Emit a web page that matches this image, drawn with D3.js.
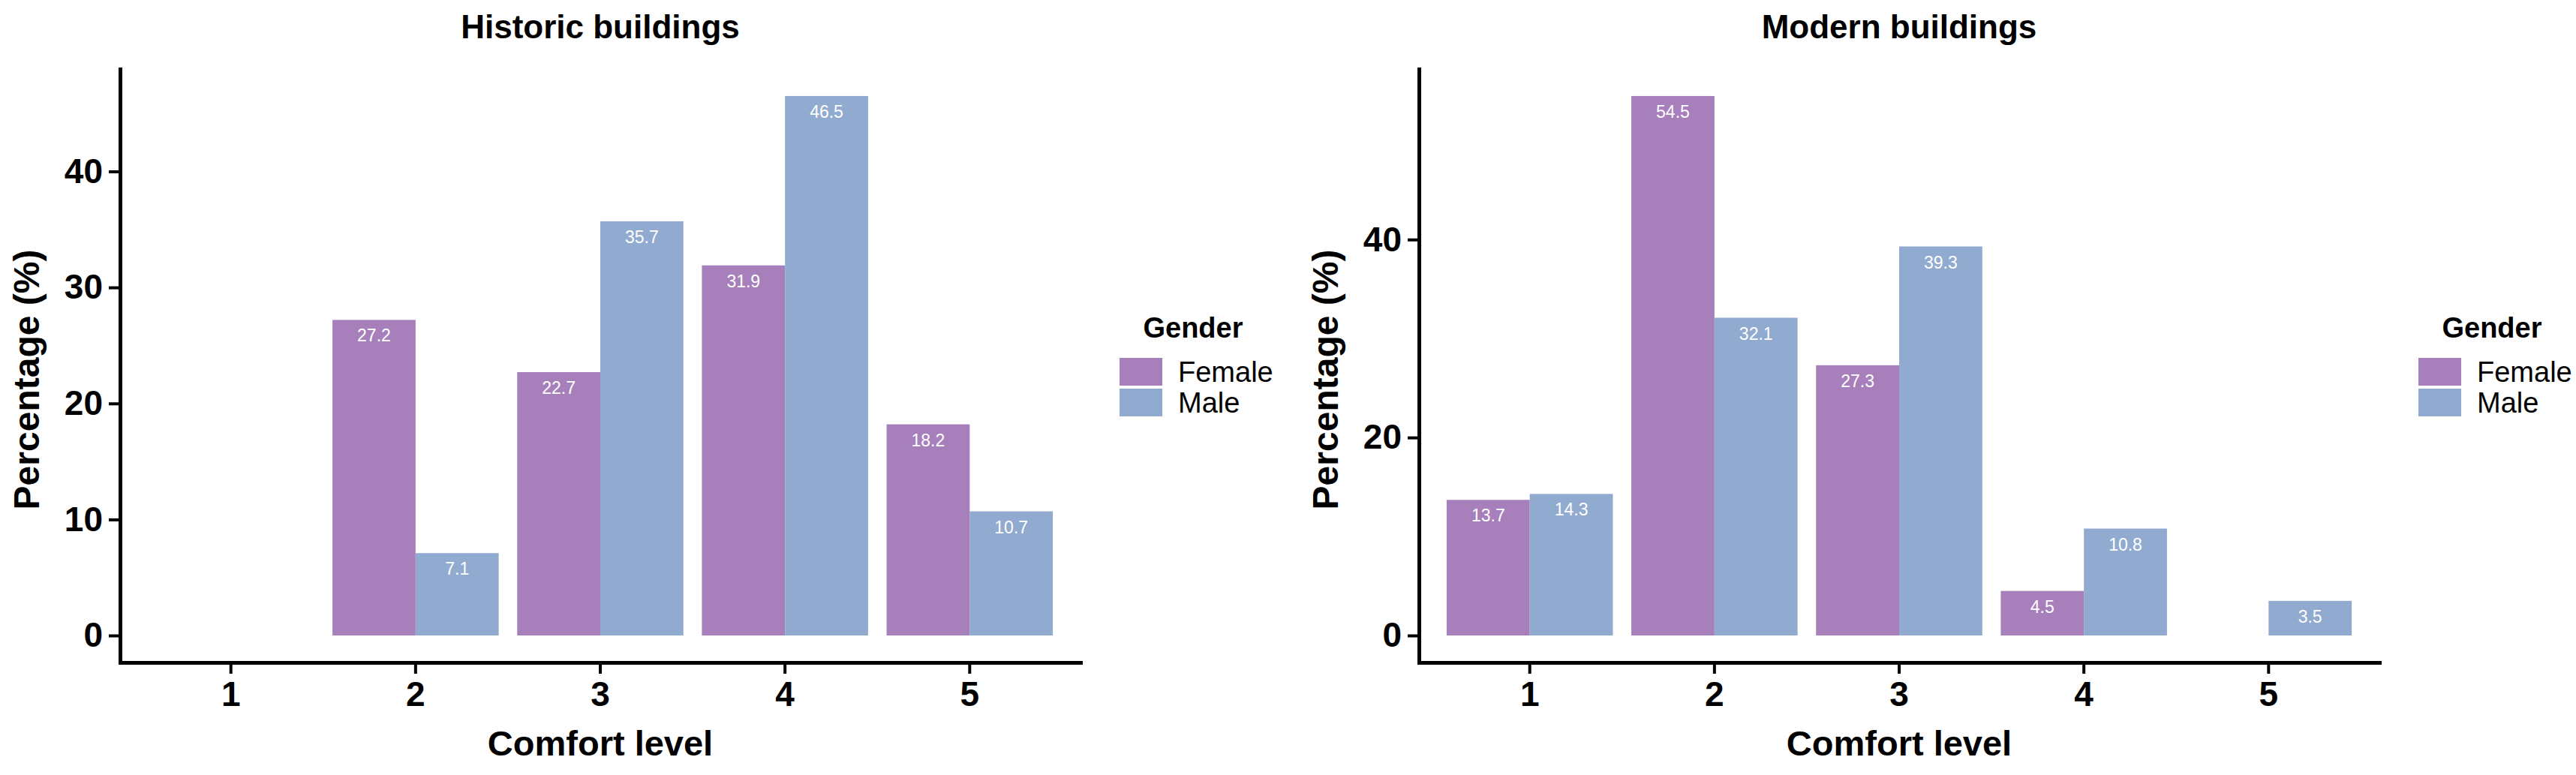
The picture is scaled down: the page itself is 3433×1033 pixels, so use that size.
<!DOCTYPE html>
<html>
<head>
<meta charset="utf-8">
<script src="https://cdn.jsdelivr.net/npm/d3@7"></script>
<style>
  html, body { margin: 0; padding: 0; background: #ffffff; }
  svg { display: block; }
  text { font-family: "Liberation Sans", Arial, Helvetica, sans-serif; }
</style>
</head>
<body>
<svg id="chart" width="3433" height="1033"></svg>
<script>
// ---- Data ----
const levels = ["1", "2", "3", "4", "5"];
const genders = ["Female", "Male"];
const genderColors = ["#A77FBB", "#91ABD0"];

const historicFemale = [null, 27.2, 22.7, 31.9, 18.2];
const historicMale   = [null, 7.1, 35.7, 46.5, 10.7];
const modernFemale   = [13.7, 54.5, 27.3, 4.5, null];
const modernMale     = [14.3, 32.1, 39.3, 10.8, 3.5];

const historicTicks = [0, 10, 20, 30, 40];
const modernTicks   = [0, 20, 40];

const panelTitles = ["Historic buildings", "Modern buildings"];
const xTitle = "Comfort level";
const yTitle = "Percentage (%)";
const legendTitle = "Gender";

// ---- Layout ----
(function () {
  const svg = d3.select("#chart");
  const W = 3433, H = 1033;
  svg.append("rect").attr("width", W).attr("height", H).attr("fill", "#fff");

  const panels = [
    { left: 160, right: 1440, title: panelTitles[0], female: historicFemale, male: historicMale, ticks: historicTicks },
    { left: 1891, right: 3171, title: panelTitles[1], female: modernFemale, male: modernMale, ticks: modernTicks }
  ];
  const panelTop = 92, panelBottom = 883;
  const lineW = 5;

  panels.forEach(p => {
    const g = svg.append("g");
    const rows = levels.map((lv, i) => ({ level: lv, values: [p.female[i], p.male[i]] }));
    const maxV = d3.max(rows, r => d3.max(r.values.filter(v => v != null)));

    const x = d3.scaleBand().domain(levels).range([p.left, p.right])
      .paddingInner(0.1).paddingOuter(0.15);
    const xg = d3.scaleBand().domain(genders).range([0, x.bandwidth()]);
    const y = d3.scaleLinear().domain([-0.05 * maxV, maxV * 1.05]).range([panelBottom, panelTop]);
    const color = d3.scaleOrdinal().domain(genders).range(genderColors);

    const bars = [];
    rows.forEach(r => r.values.forEach((v, j) => {
      if (v != null) bars.push({ level: r.level, gender: genders[j], value: v });
    }));

    g.selectAll("rect.bar").data(bars).enter().append("rect")
      .attr("class", "bar")
      .attr("x", d => x(d.level) + xg(d.gender))
      .attr("width", xg.bandwidth())
      .attr("y", d => y(d.value))
      .attr("height", d => y(0) - y(d.value))
      .attr("fill", d => color(d.gender));

    g.selectAll("text.lab").data(bars).enter().append("text")
      .attr("class", "lab")
      .attr("x", d => x(d.level) + xg(d.gender) + xg.bandwidth() / 2)
      .attr("y", d => y(d.value) + 29)
      .attr("text-anchor", "middle")
      .attr("fill", "#ffffff")
      .attr("font-size", 23)
      .text(d => d3.format(".1f")(d.value));

    const xAxis = g.append("g").attr("transform", `translate(0,${panelBottom})`)
      .call(d3.axisBottom(x).tickSize(15).tickSizeOuter(0).tickPadding(10));
    const yAxis = g.append("g").attr("transform", `translate(${p.left},0)`)
      .call(d3.axisLeft(y).tickValues(p.ticks).tickSize(15).tickSizeOuter(0).tickPadding(8));

    [xAxis, yAxis].forEach(ax => {
      ax.select(".domain").attr("stroke", "#000").attr("stroke-width", lineW).attr("stroke-linecap", "square");
      ax.selectAll(".tick line").attr("stroke", "#000").attr("stroke-width", 4);
      ax.selectAll(".tick text")
        .attr("fill", "#000")
        .attr("font-size", 46)
        .attr("font-weight", "bold")
        .attr("font-family", "'Liberation Sans', Arial, sans-serif");
    });

    const cx = (p.left + p.right) / 2;
    g.append("text").attr("x", cx).attr("y", 51)
      .attr("text-anchor", "middle").attr("font-size", 44).attr("font-weight", "bold")
      .attr("fill", "#000").text(p.title);
    g.append("text").attr("x", cx).attr("y", 1007)
      .attr("text-anchor", "middle").attr("font-size", 47).attr("font-weight", "bold")
      .attr("fill", "#000").text(xTitle);
    g.append("text")
      .attr("transform", `translate(${p.left - 108},506) rotate(-90)`)
      .attr("text-anchor", "middle").attr("font-size", 48).attr("font-weight", "bold")
      .attr("fill", "#000").text(yTitle);

    const lx = p.right + 52;
    const keyW = 57, keyH = 37, keyStep = 41, keyTop = 477;
    const lg = g.append("g");
    lg.append("text").attr("x", lx + 98).attr("y", 450)
      .attr("text-anchor", "middle").attr("font-size", 38).attr("font-weight", "bold")
      .attr("fill", "#000").text(legendTitle);
    genders.forEach((gn, i) => {
      lg.append("rect").attr("x", lx).attr("y", keyTop + i * keyStep)
        .attr("width", keyW).attr("height", keyH).attr("fill", color(gn));
      lg.append("text").attr("x", lx + keyW + 21).attr("y", keyTop + i * keyStep + keyH / 2 + 13)
        .attr("font-size", 38).attr("fill", "#000").text(gn);
    });
  });
})();
</script>
</body>
</html>
